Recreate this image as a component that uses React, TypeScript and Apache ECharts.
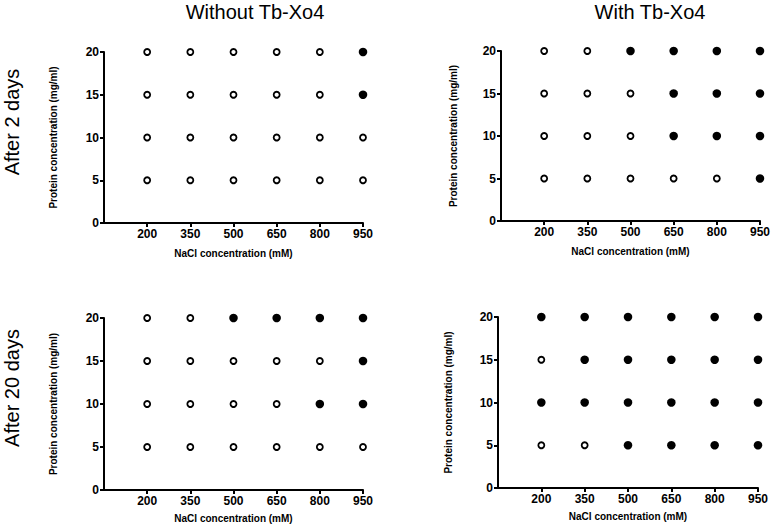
import React, { useEffect, useRef } from 'react';
import * as echarts from 'echarts';

const naclLevels = ['200', '350', '500', '650', '800', '950'];
const proteinLevels = [20, 15, 10, 5];
// 1 = filled circle, 0 = open circle; rows follow proteinLevels, columns follow naclLevels
const withoutDay2 = [
  [0, 0, 0, 0, 0, 1],
  [0, 0, 0, 0, 0, 1],
  [0, 0, 0, 0, 0, 0],
  [0, 0, 0, 0, 0, 0],
];
const withDay2 = [
  [0, 0, 1, 1, 1, 1],
  [0, 0, 0, 1, 1, 1],
  [0, 0, 0, 1, 1, 1],
  [0, 0, 0, 0, 0, 1],
];
const withoutDay20 = [
  [0, 0, 1, 1, 1, 1],
  [0, 0, 0, 0, 0, 1],
  [0, 0, 0, 0, 1, 1],
  [0, 0, 0, 0, 0, 0],
];
const withDay20 = [
  [1, 1, 1, 1, 1, 1],
  [0, 1, 1, 1, 1, 1],
  [1, 1, 1, 1, 1, 1],
  [0, 0, 1, 1, 1, 1],
];
const columnTitles = ['Without Tb-Xo4', 'With Tb-Xo4'];
const rowTitles = ['After 2 days', 'After 20 days'];
const xAxisName = 'NaCl concentration (mM)';
const yAxisName = 'Protein concentration (mg/ml)';

const FONT = '"Liberation Sans", Arial, Helvetica, sans-serif';

const panels = [
  { states: withoutDay2, grid: { left: 104, top: 52, width: 259, height: 171 }, yGap: 46, xGap: 25 },
  { states: withDay2, grid: { left: 501, top: 51, width: 260, height: 170 }, yGap: 43, xGap: 25 },
  { states: withoutDay20, grid: { left: 104, top: 318, width: 259, height: 172 }, yGap: 46, xGap: 23 },
  { states: withDay20, grid: { left: 498, top: 317, width: 260, height: 171 }, yGap: 45, xGap: 23 },
];

function pointsOf(states: number[][], flag: number) {
  const out: [string, number][] = [];
  states.forEach((row, i) => {
    row.forEach((v, j) => {
      if (v === flag) out.push([naclLevels[j], proteinLevels[i]]);
    });
  });
  return out;
}

export default function App() {
  const ref = useRef<HTMLDivElement>(null);
  useEffect(() => {
    if (!ref.current) return;
    const chart = echarts.init(ref.current, null, { renderer: 'svg' });
    const axisLine = { show: true, lineStyle: { color: '#000', width: 2 } };
    const axisTickBase = { show: true, length: 4, lineStyle: { color: '#000', width: 2 } };
    const labelStyle = { color: '#000', fontWeight: 'bold' as const, fontSize: 12, fontFamily: FONT };
    const nameStyle = { color: '#000', fontWeight: 'bold' as const, fontSize: 10, fontFamily: FONT };

    const grid = panels.map((p) => ({ ...p.grid, containLabel: false }));
    const xAxis = panels.map((p, k) => ({
      type: 'category',
      gridIndex: k,
      data: ['', ...naclLevels],
      boundaryGap: false,
      axisLine,
      axisTick: { ...axisTickBase, interval: (idx: number) => idx !== 0 },
      axisLabel: { ...labelStyle, margin: 5, interval: 0 },
      splitLine: { show: false },
      name: xAxisName,
      nameLocation: 'middle',
      nameGap: p.xGap,
      nameTextStyle: nameStyle,
    }));
    const yAxis = panels.map((p, k) => ({
      type: 'value',
      gridIndex: k,
      min: 0,
      max: 20,
      interval: 5,
      axisLine,
      axisTick: axisTickBase,
      axisLabel: { ...labelStyle, margin: 5 },
      splitLine: { show: false },
      name: yAxisName,
      nameLocation: 'middle',
      nameGap: p.yGap,
      nameTextStyle: nameStyle,
    }));
    const series: any[] = [];
    panels.forEach((p, k) => {
      series.push({
        type: 'scatter',
        name: 'open',
        xAxisIndex: k,
        yAxisIndex: k,
        data: pointsOf(p.states, 0),
        symbol: 'circle',
        symbolSize: 6,
        itemStyle: { color: '#fff', borderColor: '#000', borderWidth: 1.8, opacity: 1 },
        emphasis: { disabled: true },
      });
      series.push({
        type: 'scatter',
        name: 'filled',
        xAxisIndex: k,
        yAxisIndex: k,
        data: pointsOf(p.states, 1),
        symbol: 'circle',
        symbolSize: 8.5,
        itemStyle: { color: '#000', opacity: 1 },
        emphasis: { disabled: true },
      });
    });
    const titleFont = `20px ${FONT}`;
    const graphic = [
      { type: 'text', x: 255, y: 12, style: { text: columnTitles[0], font: titleFont, fill: '#000', align: 'center', verticalAlign: 'middle' } },
      { type: 'text', x: 650, y: 12, style: { text: columnTitles[1], font: titleFont, fill: '#000', align: 'center', verticalAlign: 'middle' } },
      { type: 'text', x: 12, y: 122, rotation: Math.PI / 2, style: { text: rowTitles[0], font: titleFont, fill: '#000', align: 'center', verticalAlign: 'middle' } },
      { type: 'text', x: 12, y: 388, rotation: Math.PI / 2, style: { text: rowTitles[1], font: titleFont, fill: '#000', align: 'center', verticalAlign: 'middle' } },
    ];
    chart.setOption({
      animation: false,
      backgroundColor: '#fff',
      grid,
      xAxis,
      yAxis,
      series,
      graphic,
    } as any);
    return () => chart.dispose();
  }, []);
  return (
    <div
      ref={ref}
      style={{ position: 'fixed', left: 0, top: 0, width: 773, height: 528, background: '#fff' }}
    />
  );
}
